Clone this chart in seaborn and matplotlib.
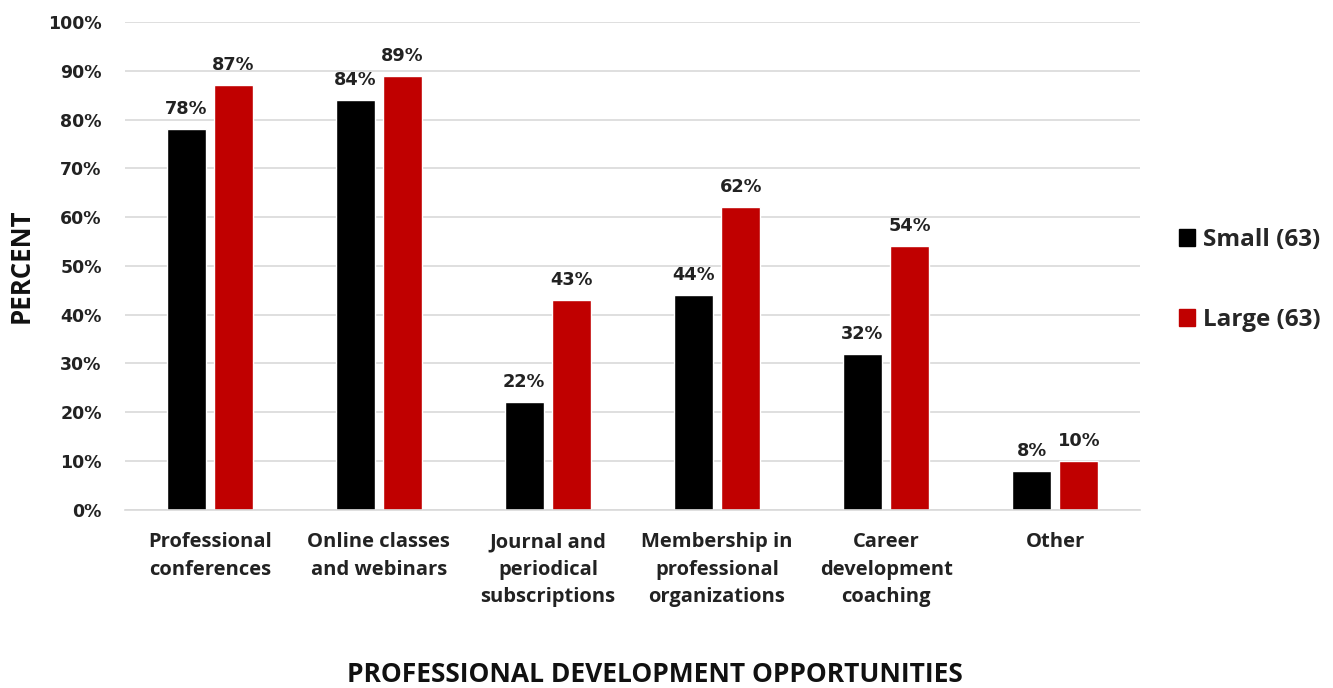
import matplotlib
matplotlib.use("Agg")
import matplotlib.pyplot as plt
import seaborn as sns
import pandas as pd
from matplotlib.patches import Patch

categories = [
    "Professional\nconferences",
    "Online classes\nand webinars",
    "Journal and\nperiodical\nsubscriptions",
    "Membership in\nprofessional\norganizations",
    "Career\ndevelopment\ncoaching",
    "Other",
]
series_names = ["Small (63)", "Large (63)"]
small_values = [78, 84, 22, 44, 32, 8]
large_values = [87, 89, 43, 62, 54, 10]
y_ticks = list(range(0, 101, 10))

colors = ["#000000", "#C00000"]

df = pd.DataFrame({
    "category": categories * 2,
    "group": [series_names[0]] * len(categories) + [series_names[1]] * len(categories),
    "value": small_values + large_values,
})

sns.set_theme(style="white")
plt.rcParams["font.family"] = ["Open Sans", "DejaVu Sans"]
num_font = ["DejaVu Sans"]

fig = plt.figure(figsize=(13.33, 6.88), dpi=100)
ax = fig.add_axes([0.094, 0.259, 0.761, 0.709])

sns.barplot(data=df, x="category", y="value", hue="group", order=categories,
            hue_order=series_names, palette=colors, width=0.56, gap=0.18,
            ax=ax, legend=False, saturation=1)

for container in ax.containers:
    ax.bar_label(container, labels=[f"{v:.0f}%" for v in container.datavalues],
                 padding=8, fontsize=12.8, fontweight="bold", color="#222222",
                 family=num_font)

ax.set_ylim(0, 100)
ax.set_yticks(y_ticks)
ax.set_yticklabels([f"{t}%" for t in y_ticks], fontsize=12.5, fontweight="bold",
                   color="#222222", family=num_font)
ax.set_xlim(-0.5, len(categories) - 0.5)
ax.tick_params(axis="x", labelsize=14.5, pad=16, length=0)
ax.tick_params(axis="y", length=0, pad=17)
for lbl in ax.get_xticklabels():
    lbl.set_fontweight("bold")
    lbl.set_color("#222222")
    lbl.set_linespacing(1.5)

ax.yaxis.grid(True, color="#d9d9d9", linewidth=1.2)
ax.set_axisbelow(True)
for s in ["top", "right", "left"]:
    ax.spines[s].set_visible(False)
ax.spines["bottom"].set_color("#d9d9d9")
ax.spines["bottom"].set_linewidth(1.2)

ax.set_ylabel("PERCENT", fontsize=18.5, fontweight="bold", labelpad=10, color="#111111")
ax.set_xlabel("")
fig.text(0.491, 0.019, "PROFESSIONAL DEVELOPMENT OPPORTUNITIES", ha="center",
         va="center", fontsize=19, fontweight="bold", color="#111111")

handles = [Patch(facecolor=c, edgecolor=c) for c in colors]
fig.legend(handles, series_names, loc="center left", bbox_to_anchor=(0.868, 0.593),
           frameon=False, handlelength=0.65, handleheight=0.65, handletextpad=0.35,
           labelspacing=2.3, prop={"size": 17.5, "weight": "bold"})

fig.savefig("out.png", dpi=100)
